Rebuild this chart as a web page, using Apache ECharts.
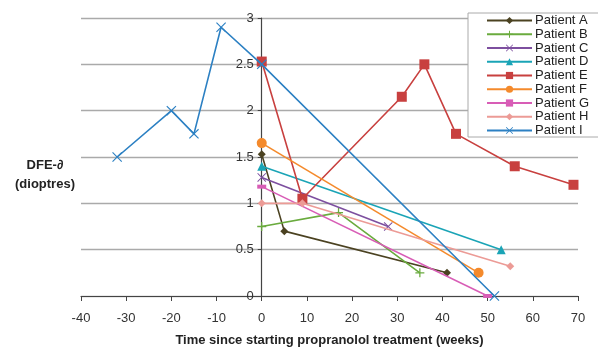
<!DOCTYPE html>
<html>
<head>
<meta charset="utf-8">
<script src="https://cdn.jsdelivr.net/npm/echarts@6/dist/echarts.min.js"></script>
<style>
  html, body { margin: 0; padding: 0; background: #fff; }
  #chart { width: 598px; height: 347px; }
</style>
</head>
<body>
<div id="chart"></div>
<script>
// readings taken off the figure: [weeks, dioptres]
var patientA = [[0, 1.53], [5, 0.7], [41, 0.25]];
var patientB = [[0, 0.75], [17, 0.9], [35, 0.25]];
var patientC = [[0, 1.28], [28, 0.75]];
var patientD = [[0, 1.4], [53, 0.5]];
var patientE = [[0, 2.53], [9, 1.05], [31, 2.15], [36, 2.5], [43, 1.75], [56, 1.4], [69, 1.2]];
var patientF = [[0, 1.65], [48, 0.25]];
var patientG = [[0, 1.18], [50, 0]];
var patientH = [[0, 1.0], [9, 1.0], [55, 0.32]];
var patientI = [[-32, 1.5], [-20, 2.0], [-15, 1.75], [-9, 2.9], [0, 2.5], [51.5, 0]];

var patientNames = ['Patient A', 'Patient B', 'Patient C', 'Patient D', 'Patient E',
                    'Patient F', 'Patient G', 'Patient H', 'Patient I'];
var patientData = [patientA, patientB, patientC, patientD, patientE,
                   patientF, patientG, patientH, patientI];

var colors = ['#4b4221', '#6aab3e', '#7d4f9f', '#1aa4b6', '#c8403f',
              '#f48a2c', '#d85db6', '#ec9b96', '#2c80c3'];

var plusPath = 'path://M4.3,0H5.7V10H4.3ZM0,4.3H10V5.7H0Z';
var crossPath = 'path://M0,0.8L0.8,0L5,4.2L9.2,0L10,0.8L5.8,5L10,9.2L9.2,10L5,5.8L0.8,10L0,9.2L4.2,5Z';
var dashPath = 'path://M0,0H10V4H0Z';
var symbols = ['diamond', plusPath, crossPath, 'triangle', 'rect', 'circle', dashPath, 'diamond', crossPath];
var symbolSizes = [8, 9, 9, 9, 10, 10, [9, 4], 8, 10];

var series = patientNames.map(function (name, i) {
  return {
    name: name,
    type: 'line',
    data: patientData[i],
    symbol: symbols[i],
    symbolSize: symbolSizes[i],
    showAllSymbol: true,
    lineStyle: { color: colors[i], width: 1.6 },
    itemStyle: { color: colors[i] },
    z: 3 + i
  };
});

var xMin = -40, xMax = 70;
var gridLeft = 81, gridRight = 20;
// shift the y axis so it sits on x = 0, labels included
var yOffset = -(598 - gridLeft - gridRight) * (0 - xMin) / (xMax - xMin);

var labelFont = 'bold 13px Liberation Sans, Arial, sans-serif';

var chart = echarts.init(document.getElementById('chart'));
chart.setOption({
  animation: false,
  backgroundColor: '#fff',
  textStyle: { fontFamily: 'Liberation Sans, Arial, sans-serif' },
  grid: { left: gridLeft, right: gridRight, top: 18, bottom: 51, outerBoundsMode: 'none' },
  legend: {
    data: patientNames,
    orient: 'vertical',
    left: 468,
    top: 13,
    itemWidth: 45,
    itemHeight: 9,
    itemGap: 0.75,
    padding: [1, 14, 0, 18],
    borderColor: '#aaa',
    borderWidth: 1,
    backgroundColor: '#fff',
    textStyle: { fontSize: 13, lineHeight: 12, color: '#222', padding: [0, 0, 0, -2] },
    z: 10
  },
  xAxis: {
    type: 'value',
    min: xMin,
    max: xMax,
    interval: 10,
    name: 'Time since starting propranolol treatment (weeks)',
    nameLocation: 'middle',
    nameGap: 38,
    nameTextStyle: { fontSize: 13, fontWeight: 'bold', color: '#222' },
    axisLine: { onZero: false, lineStyle: { color: '#444', width: 1.2 } },
    axisTick: { show: true, length: 5, lineStyle: { color: '#444' } },
    axisLabel: { fontSize: 13, color: '#333', margin: 16 },
    splitLine: { show: false }
  },
  yAxis: {
    type: 'value',
    min: 0,
    max: 3,
    interval: 0.5,
    offset: yOffset,
    axisLine: { show: true, onZero: false, lineStyle: { color: '#444', width: 1.2 } },
    axisTick: { show: true, length: 4, lineStyle: { color: '#444' } },
    axisLabel: { fontSize: 13, color: '#333', margin: 8 },
    splitLine: { show: true, lineStyle: { color: '#aaa', width: 1.3 } }
  },
  graphic: [{
    type: 'text',
    x: 45,
    y: 165,
    style: { text: 'DFE-∂', align: 'center', verticalAlign: 'middle', font: labelFont, fill: '#222' }
  }, {
    type: 'text',
    x: 45,
    y: 184,
    style: { text: '(dioptres)', align: 'center', verticalAlign: 'middle', font: labelFont, fill: '#222' }
  }],
  series: series
});
</script>
</body>
</html>
